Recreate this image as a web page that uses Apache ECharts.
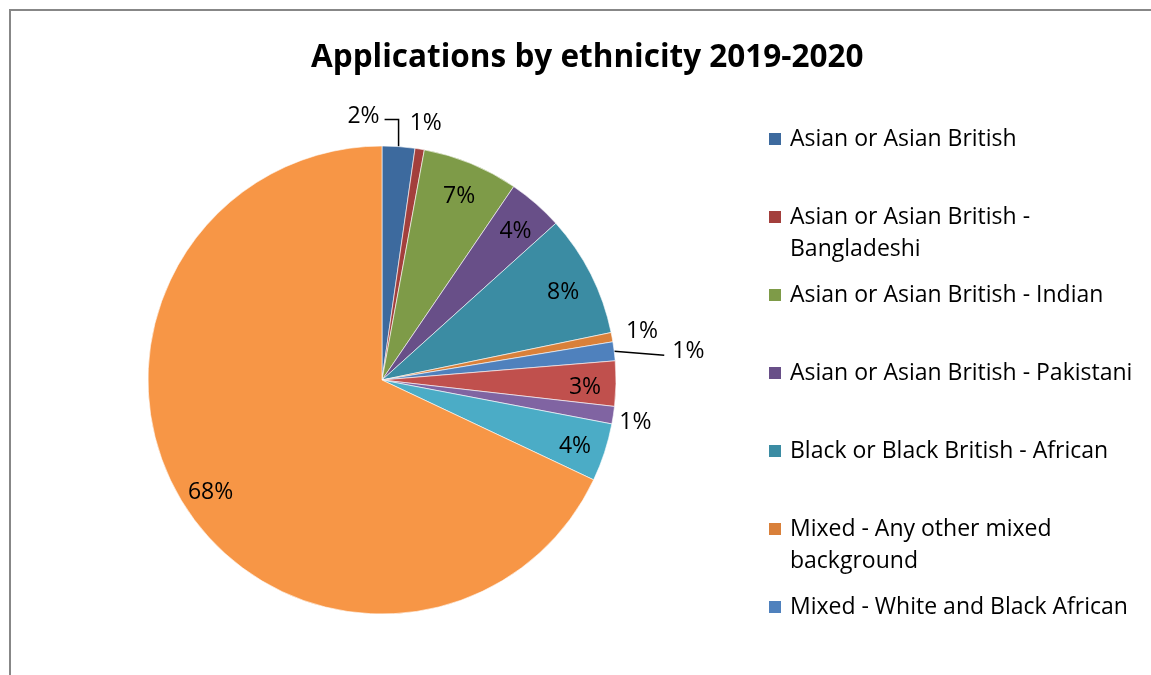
<!DOCTYPE html>
<html>
<head>
<meta charset="utf-8">
<title>Applications by ethnicity 2019-2020</title>
<script src="https://cdn.jsdelivr.net/npm/echarts@6/dist/echarts.min.js"></script>
<style>
  html, body { margin: 0; padding: 0; background: #ffffff; }
  #chart { width: 1151px; height: 675px; }
</style>
</head>
<body>
<div id="chart"></div>
<script>
// Share of applications by ethnicity, in percent, clockwise from 12 o'clock
const categories = [
  'Asian or Asian British',
  'Asian or Asian British - Bangladeshi',
  'Asian or Asian British - Indian',
  'Asian or Asian British - Pakistani',
  'Black or Black British - African',
  'Mixed - Any other mixed background',
  'Mixed - White and Black African',
  'Not known',
  'Other Ethnic background',
  'White - Any other white background',
  'White - British'
];
const shares = [2.25, 0.64, 6.6, 3.8, 8.4, 0.64, 1.3, 3.1, 1.2, 4.0, 67.8];
const sliceColors = [
  '#3d6a9e', '#a33f3c', '#7e9b48', '#684f88', '#3b8ca3', '#d9803a',
  '#4f81bd', '#c0504d', '#8064a2', '#4bacc6', '#f79646'
];
// Legend entries shown beside the pie (with line breaks where they wrap)
const legendLabels = [
  'Asian or Asian British',
  'Asian or Asian British -\nBangladeshi',
  'Asian or Asian British - Indian',
  'Asian or Asian British - Pakistani',
  'Black or Black British - African',
  'Mixed - Any other mixed\nbackground',
  'Mixed - White and Black African'
];

const FONT = '"Open Sans", Lato, sans-serif';
const TEXT_SIZE = 23;
const CENTER = [382, 380];
const RADIUS = 234;

// Small slices get their label outside the pie; offsets are relative to the
// point where the slice's mid-angle meets the rim.
const outsideLabels = {
  0: { at: [-19, -30], align: 'right', line: [[0, -27], [-14, -27]] },
  1: { at: [6, -26], align: 'center' },
  5: { at: [30, -6], align: 'center' },
  6: { at: [58, 0], align: 'left', line: [[50, 4]] },
  8: { at: [22, 7], align: 'center' }
};

const labelText = {
  formatter: '{d}%',
  color: '#000000',
  fontFamily: FONT,
  fontSize: TEXT_SIZE
};

const mainData = categories.map((name, i) => ({
  name: name,
  value: shares[i],
  itemStyle: { color: sliceColors[i] },
  label: { show: outsideLabels[i] !== undefined }
}));

const innerLabelData = categories.map((name, i) => ({
  name: name,
  value: shares[i],
  label: { show: outsideLabels[i] === undefined }
}));

// One legend block per entry so every entry sits in an equal slot.
// Wrapped entries get a blank leading line so that, with the text block
// centred on the swatch, the first line stays level with the swatch.
const legendFirstCenter = 139;
const legendStep = 78;
const legends = legendLabels.map((text, i) => {
  const wrapped = text.indexOf('\n') >= 0;
  const iconCenter = legendFirstCenter + i * legendStep;
  const shown = wrapped ? '\n' + text : text;
  return {
    orient: 'vertical',
    left: 767,
    top: iconCenter - (wrapped ? 48 : 16),
    padding: 0,
    selectedMode: false,
    itemWidth: 14,
    itemHeight: 14,
    icon: 'rect',
    data: [categories[i]],
    formatter: () => shown,
    textStyle: {
      color: '#000000',
      fontFamily: FONT,
      fontSize: TEXT_SIZE,
      lineHeight: 32,
      padding: [0, 0, 0, 3]
    }
  };
});

const option = {
  animation: false,
  backgroundColor: '#ffffff',
  title: {
    text: 'Applications by ethnicity 2019-2020',
    left: 306,
    top: 37,
    textStyle: {
      color: '#000000',
      fontFamily: FONT,
      fontWeight: 'bold',
      fontSize: 31.5
    }
  },
  legend: legends,
  graphic: [{
    type: 'polyline',
    silent: true,
    shape: { points: [[10, 675], [10, 10], [1151, 10]] },
    style: { stroke: '#878787', lineWidth: 2, fill: null }
  }],
  series: [
    {
      type: 'pie',
      center: CENTER,
      radius: RADIUS,
      startAngle: 90,
      clockwise: true,
      avoidLabelOverlap: false,
      percentPrecision: 0,
      emphasis: { disabled: true },
      itemStyle: { borderColor: '#ffffff', borderWidth: 0.6 },
      label: Object.assign({ position: 'outside' }, labelText),
      labelLine: {
        show: true,
        length: 10,
        length2: 10,
        lineStyle: { color: '#000000', width: 1.5 }
      },
      labelLayout: function (params) {
        const spec = outsideLabels[params.dataIndex];
        if (!spec || !params.labelLinePoints) return {};
        const rim = params.labelLinePoints[0];
        const pts = [rim];
        (spec.line || []).forEach(d => pts.push([rim[0] + d[0], rim[1] + d[1]]));
        while (pts.length < 3) pts.push(pts[pts.length - 1]);
        return {
          x: rim[0] + spec.at[0],
          y: rim[1] + spec.at[1],
          align: spec.align,
          verticalAlign: 'middle',
          labelLinePoints: pts
        };
      },
      data: mainData
    },
    {
      // transparent ring that carries the in-slice labels near the rim
      type: 'pie',
      center: CENTER,
      radius: [166, RADIUS],
      startAngle: 90,
      clockwise: true,
      silent: true,
      avoidLabelOverlap: false,
      percentPrecision: 0,
      emphasis: { disabled: true },
      itemStyle: { color: 'rgba(0,0,0,0)', borderWidth: 0 },
      label: Object.assign({ position: 'inside' }, labelText),
      labelLine: { show: false },
      labelLayout: { dy: 4 },
      data: innerLabelData
    }
  ]
};

const chart = echarts.init(document.getElementById('chart'), null, { renderer: 'canvas' });
chart.setOption(option);
</script>
</body>
</html>
